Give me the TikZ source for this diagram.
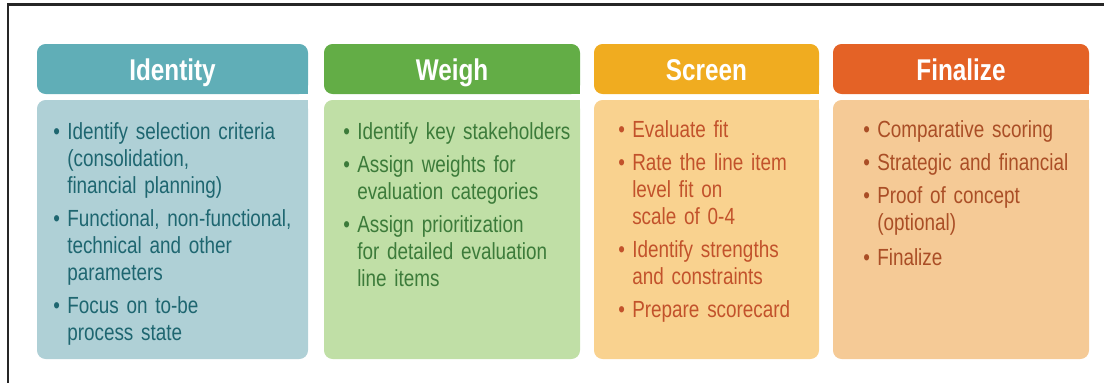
\documentclass[tikz,border=0pt]{standalone}
\usepackage{fontspec}
\setmainfont{Liberation Sans}[FakeStretch=0.81]
\usetikzlibrary{positioning}
\definecolor{idhead}{RGB}{96, 174, 183}
\definecolor{idbody}{RGB}{175, 208, 214}
\definecolor{idtext}{RGB}{30, 102, 112}
\definecolor{wghead}{RGB}{99, 173, 70}
\definecolor{wgbody}{RGB}{192, 223, 166}
\definecolor{wgtext}{RGB}{60, 123, 58}
\definecolor{schead}{RGB}{240, 172, 32}
\definecolor{scbody}{RGB}{249, 210, 143}
\definecolor{sctext}{RGB}{194, 82, 43}
\definecolor{fnhead}{RGB}{228, 98, 38}
\definecolor{fnbody}{RGB}{245, 202, 150}
\definecolor{fntext}{RGB}{170, 78, 38}
\newcommand{\bul}{\makebox[10.5pt][l]{\textbullet}}
\newcommand{\ind}{\hspace*{10.5pt}}
\tikzset{
    head/.style={
        rectangle, rounded corners=6.5pt, inner sep=0pt,
        minimum width=#1*0.75pt, minimum height=37.5pt,
        text height=20pt, text depth=3.5pt,
        text=white, font=\fontsize{22.5}{26}\selectfont\bfseries
    },
    panel/.style={
        rectangle, rounded corners=6.5pt, inner sep=0pt,
        minimum width=#1*0.75pt, minimum height=194.25pt
    },
    items/.style={
        inner sep=0pt, anchor=base west, align=left,
        text width=#1*0.75pt, font=\fontsize{17.5}{20.25}\selectfont
    },
    frame/.style={line width=1.6pt, color=black!85},
}
\begin{document}
\begin{tikzpicture}[x=0.75pt, y=-0.75pt]
    \useasboundingbox (0, 0) rectangle (1104, 383);
    \draw[frame] (1104, 4.5) -- (8, 4.5) -- (8, 383);

    % Identity
    \node[head=271, fill=idhead] (hid) at (172.5, 69) {Identity};
    \node[panel=271, fill=idbody] (pid) at (172.5, 229.5) {};
    \fill[idhead] (hid.south east) rectangle ++(-10, -10);
    \fill[idbody] (pid.north east) rectangle ++(-10, 10);
    \node[items=250, text=idtext] (lid) at (53, 139.5) {
        \bul Identify selection criteria\\
        \ind (consolidation,\\
        \ind financial planning)\\[4.5pt]
        \bul Functional, non-functional,\\
        \ind technical and other\\
        \ind parameters\\[4.5pt]
        \bul Focus on to-be\\
        \ind process state
    };

    % Weigh
    \node[head=256, fill=wghead] (hwg) at (452, 69) {Weigh};
    \node[panel=256, fill=wgbody] (pwg) at (452, 229.5) {};
    \fill[wghead] (hwg.south east) rectangle ++(-10, -10);
    \fill[wgbody] (pwg.north east) rectangle ++(-10, 10);
    \node[items=236, text=wgtext] (lwg) at (343, 139.5) {
        \bul Identify key stakeholders\\[4.5pt]
        \bul Assign weights for\\
        \ind evaluation categories\\[4.5pt]
        \bul Assign prioritization\\
        \ind for detailed evaluation\\
        \ind line items
    };

    % Screen
    \node[head=225, fill=schead] (hsc) at (706.5, 69) {Screen};
    \node[panel=225, fill=scbody] (psc) at (706.5, 229.5) {};
    \fill[schead] (hsc.south east) rectangle ++(-10, -10);
    \fill[scbody] (psc.north east) rectangle ++(-10, 10);
    \node[items=198, text=sctext] (lsc) at (618, 137) {
        \bul Evaluate fit\\[4.5pt]
        \bul Rate the line item\\
        \ind level fit on\\
        \ind scale of 0-4\\[4.5pt]
        \bul Identify strengths\\
        \ind and constraints\\[4.5pt]
        \bul Prepare scorecard
    };

    % Finalize
    \node[head=256, fill=fnhead] (hfn) at (961, 69) {Finalize};
    \node[panel=256, fill=fnbody] (pfn) at (961, 229.5) {};
    \fill[fnhead] (hfn.south east) rectangle ++(-10, -10);
    \fill[fnbody] (pfn.north east) rectangle ++(-10, 10);
    \node[items=222, text=fntext] (lfn) at (863, 137) {
        \bul Comparative scoring\\[4.5pt]
        \bul Strategic and financial\\[4.5pt]
        \bul Proof of concept\\
        \ind (optional)\\[6pt]
        \bul Finalize
    };
\end{tikzpicture}
\end{document}
